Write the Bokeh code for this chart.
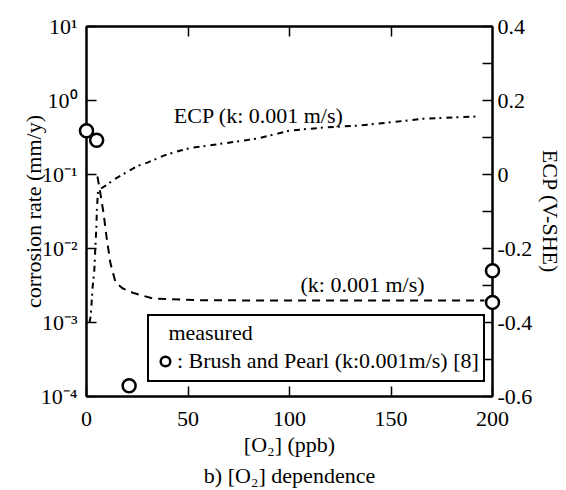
from bokeh.plotting import figure
from bokeh.models import (Range1d, LinearAxis, LinearScale, FixedTicker, CustomJSTickFormatter,
                          Legend, LegendItem, Label, Title)
from bokeh.embed import file_html
from bokeh.resources import INLINE

# ---- data ----
# corrosion rate model curve (k: 0.001 m/s), left log axis
o2_cr = [5.4, 7.0, 8.4, 9.9, 11.8, 14.3, 17.7, 23.2, 33, 56, 100, 150, 196]
cr_model = [0.094, 0.052, 0.030, 0.0141, 0.0063, 0.0035, 0.0029, 0.0025,
            0.0021, 0.0020, 0.00198, 0.00198, 0.00198]

# ECP model curve (k: 0.001 m/s), right axis
o2_ecp = [1.5, 2.1, 3.0, 3.8, 4.3, 4.9, 5.1, 5.7, 9.4, 14.3, 21.2, 25.6, 30, 38,
          46.3, 52.7, 67.5, 84, 100.5, 117, 133.5, 150, 166, 194]
ecp_model = [-0.40, -0.381, -0.305, -0.265, -0.205, -0.138, -0.095, -0.043,
             -0.030, -0.011, 0.011, 0.024, 0.032, 0.051, 0.065, 0.073, 0.084,
             0.097, 0.119, 0.127, 0.132, 0.141, 0.151, 0.157]

# measured: Brush and Pearl
meas_o2 = [0, 5, 21, 200, 200]
meas_cr = [0.39, 0.29, 1.4e-4, 5.0e-3, 1.87e-3]

x_ticks = [0, 50, 100, 150, 200]
top_ticks = [50, 100, 150]
cr_ticks = [1e-4, 1e-3, 1e-2, 1e-1, 1, 10]
ecp_ticks = [-0.6, -0.4, -0.2, 0, 0.2, 0.4]
ecp_minor = [-0.5, -0.3, -0.1, 0.1, 0.3]

FONT = "Liberation Serif"

p = figure(width=566, height=490, x_range=Range1d(0, 200), y_range=Range1d(1e-4, 1e1),
           y_axis_type="log", output_backend="svg", toolbar_location=None,
           min_border_left=86, min_border_right=74, min_border_top=26, min_border_bottom=94,
           background_fill_color="white", border_fill_color="white",
           outline_line_color="black", outline_line_width=2, outline_line_alpha=1)
p.xgrid.visible = False
p.ygrid.visible = False
p.extra_y_ranges = {"ecp": Range1d(-0.6, 0.4)}
p.extra_y_scales = {"ecp": LinearScale()}


def style_axis(ax, size="22px"):
    ax.axis_line_color = "black"
    ax.axis_line_width = 2
    ax.major_tick_line_color = "black"
    ax.major_tick_line_width = 1.5
    ax.major_tick_in = 10
    ax.major_tick_out = 0
    ax.minor_tick_line_color = None
    ax.major_label_text_font = FONT
    ax.major_label_text_font_size = size
    ax.major_label_text_color = "black"
    ax.axis_label_text_font = FONT
    ax.axis_label_text_font_size = "22px"
    ax.axis_label_text_font_style = "normal"
    ax.axis_label_text_color = "black"


# left (log) axis
ly = p.yaxis[0]
style_axis(ly)
ly.ticker = FixedTicker(ticks=cr_ticks)
ly.formatter = CustomJSTickFormatter(code="""
const sup = {"-": "\u207b", "0": "\u2070", "1": "\u00b9", "2": "\u00b2", "3": "\u00b3",
             "4": "\u2074", "5": "\u2075", "6": "\u2076", "7": "\u2077", "8": "\u2078", "9": "\u2079"};
const e = Math.round(Math.log10(tick));
return "10" + String(e).split("").map(c => sup[c]).join("");
""")
ly.major_label_standoff = 9
ly.axis_label = "corrosion rate (mm/y)"
ly.axis_label_standoff = -8

# bottom axis
bx = p.xaxis[0]
style_axis(bx)
bx.ticker = FixedTicker(ticks=x_ticks)
bx.major_label_standoff = 15
bx.axis_label = "[O\u2082] (ppb)"
bx.axis_label_standoff = 3

# top axis (ticks only)
tx = LinearAxis(ticker=FixedTicker(ticks=top_ticks),
                formatter=CustomJSTickFormatter(code="return ''"))
style_axis(tx, size="0px")
tx.major_label_standoff = 0
p.add_layout(tx, "above")

# right axis (ECP)
ry = LinearAxis(y_range_name="ecp", ticker=FixedTicker(ticks=ecp_ticks, minor_ticks=ecp_minor),
                formatter=CustomJSTickFormatter(code="""
const v = Math.round(tick * 10) / 10;
return v === 0 ? "0" : v.toFixed(1);
"""))
style_axis(ry)
ry.minor_tick_line_color = "black"
ry.minor_tick_line_width = 1.5
ry.minor_tick_in = 10
ry.minor_tick_out = 0
ry.major_label_standoff = 5
ry.axis_label = "ECP (V-SHE)"
ry.axis_label_standoff = 3
p.add_layout(ry, "right")

# curves
p.line(o2_cr, cr_model, line_color="black", line_width=2, line_dash="8 6")
p.line(o2_ecp, ecp_model, y_range_name="ecp", line_color="black", line_width=2,
       line_dash="6 4 2 5")

# measured points
meas = p.scatter(meas_o2, meas_cr, marker="circle", size=13, fill_color="white",
                 line_color="black", line_width=2.5, level="overlay")

# curve labels
p.add_layout(Label(x=43, y=0.62, text="ECP (k: 0.001 m/s)", text_font=FONT,
                   text_font_size="22px", text_baseline="middle", text_color="black"))
p.add_layout(Label(x=105.4, y=3.27e-3, text="(k: 0.001 m/s)", text_font=FONT,
                   text_font_size="22px", text_baseline="middle", text_color="black"))

# legend
legend = Legend(items=[LegendItem(label=": Brush and Pearl (k:0.001m/s) [8]", renderers=[meas])],
                title="\u00a0\u00a0\u2009measured", location=(61, 14),
                border_line_color="black", border_line_width=2, border_line_alpha=1,
                background_fill_color="white", background_fill_alpha=1,
                padding=4, margin=0, spacing=0,
                title_text_font=FONT, title_text_font_size="22px", title_text_font_style="normal",
                title_text_color="black", title_standoff=0,
                label_text_font=FONT, label_text_font_size="22px", label_text_color="black",
                glyph_width=24, glyph_height=30, label_standoff=0, label_height=22)
p.add_layout(legend)

# caption
cap = Title(text="b) [O\u2082] dependence", align="center", text_font=FONT,
            text_font_size="22px", text_font_style="normal", text_color="black", standoff=2)
p.add_layout(cap, "below")

open("out.html", "w").write(file_html(p, INLINE))
